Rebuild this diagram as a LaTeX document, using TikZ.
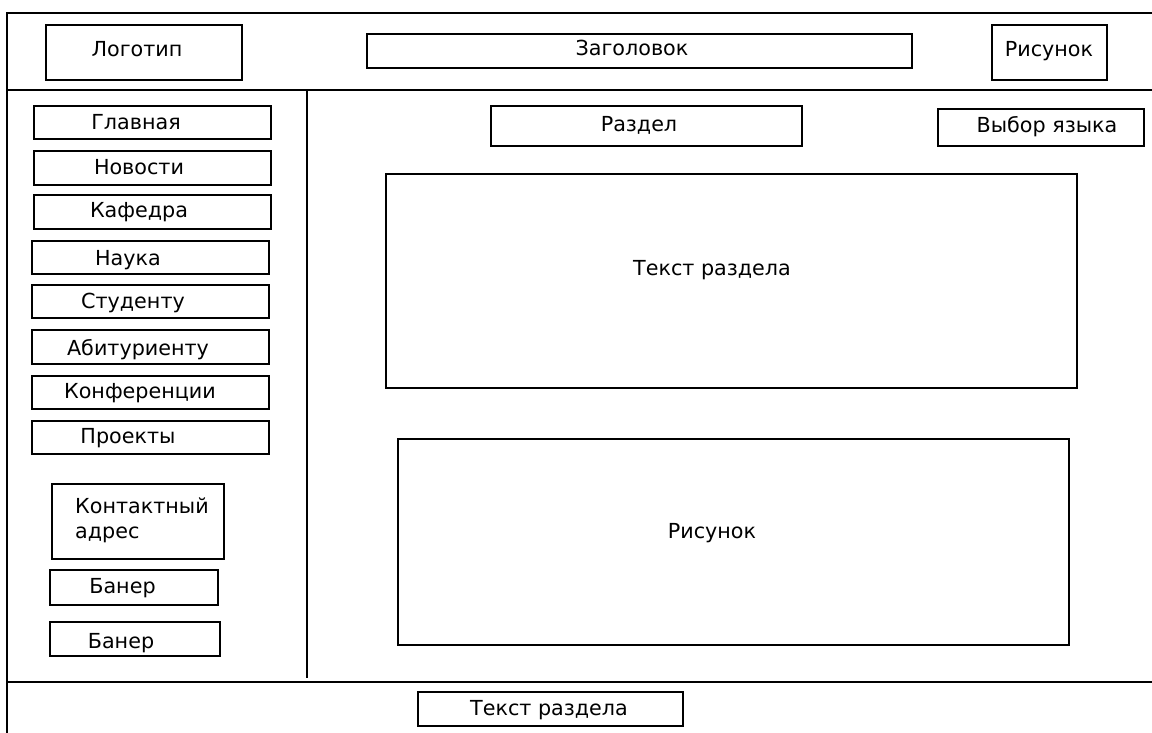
\documentclass[tikz,border=0pt]{standalone}
\usepackage{fontspec}
\setmainfont{DejaVu Sans}
\usetikzlibrary{fit}
\tikzset{
  frame/.style={line width=1.6pt, black},
  box/.style={draw, line width=1.6pt, inner sep=0pt, outer sep=0pt},
  lbl/.style={inner sep=0pt, anchor=base, font=\fontsize{20.7}{25}\selectfont},
  lblw/.style={lbl, anchor=base west}
}
\begin{document}
\begin{tikzpicture}[x=1pt, y=-1pt]
  \useasboundingbox (0,0) rectangle (1152,733);
  \fill[white] (0,0) rectangle (1152,733);

  % page frame: header, sidebar and footer dividers
  \draw[frame] (1152,13) -- (7,13) -- (7,733);
  \draw[frame] (7,90) -- (1152,90);
  \draw[frame] (307,90) -- (307,678);
  \draw[frame] (7,682) -- (1152,682);

  % header
  \node[box, fit={(46,25) (242,80)}] (logo) {};
  \node[lbl] (logo-t) at (137,57) {Логотип};
  \node[box, fit={(367,34) (912,68)}] (title) {};
  \node[lbl] (title-t) at (632,56) {Заголовок};
  \node[box, fit={(992,25) (1107,80)}] (toppic) {};
  \node[lbl] (toppic-t) at (1049,57) {Рисунок};

  % sidebar menu
  \node[box, fit={(34,106) (271,139)}] (m1) {};
  \node[lbl] (m1-t) at (136,130) {Главная};
  \node[box, fit={(34,151) (271,185)}] (m2) {};
  \node[lbl] (m2-t) at (139,175) {Новости};
  \node[box, fit={(34,195) (271,229)}] (m3) {};
  \node[lbl] (m3-t) at (139,218) {Кафедра};
  \node[box, fit={(32,241) (269,274)}] (m4) {};
  \node[lbl] (m4-t) at (128,265) {Наука};
  \node[box, fit={(32,285) (269,318)}] (m5) {};
  \node[lbl] (m5-t) at (133,308) {Студенту};
  \node[box, fit={(32,330) (269,364)}] (m6) {};
  \node[lbl] (m6-t) at (138,355) {Абитуриенту};
  \node[box, fit={(32,376) (269,409)}] (m7) {};
  \node[lbl] (m7-t) at (140,398.5) {Конференции};
  \node[box, fit={(32,421) (269,454)}] (m8) {};
  \node[lbl] (m8-t) at (128,443) {Проекты};

  % contacts and banners
  \node[box, fit={(52,484) (224,559)}] (contact) {};
  \node[lblw] (contact-t1) at (75,513) {Контактный};
  \node[lblw] (contact-t2) at (75,538) {адрес};
  \node[box, fit={(50,570) (218,605)}] (ban1) {};
  \node[lbl] (ban1-t) at (122.5,593) {Банер};
  \node[box, fit={(50,622) (220,656)}] (ban2) {};
  \node[lbl] (ban2-t) at (121,648) {Банер};

  % content area
  \node[box, fit={(491,106) (802,146)}] (section) {};
  \node[lbl] (section-t) at (639,132) {Раздел};
  \node[box, fit={(938,109) (1144,146)}] (lang) {};
  \node[lbl] (lang-t) at (1047,133) {Выбор языка};
  \node[box, fit={(386,174) (1077,388)}] (body) {};
  \node[lbl] (body-t) at (712,275) {Текст раздела};
  \node[box, fit={(398,439) (1069,645)}] (image) {};
  \node[lbl] (image-t) at (712,538.5) {Рисунок};

  % footer
  \node[box, fit={(418,692) (683,726)}] (foot) {};
  \node[lbl] (foot-t) at (549,715) {Текст раздела};
\end{tikzpicture}
\end{document}
